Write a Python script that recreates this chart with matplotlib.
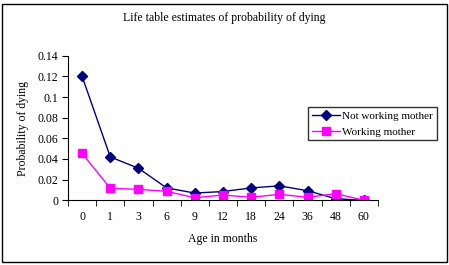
import matplotlib
matplotlib.use("Agg")
import matplotlib.pyplot as plt
from matplotlib.patches import Rectangle
import numpy as np

plt.rcParams['font.family'] = ['Liberation Serif', 'DejaVu Serif']

# data
ages = ['0', '1', '3', '6', '9', '12', '18', '24', '36', '48', '60']
not_working = [0.120, 0.042, 0.031, 0.012, 0.007, 0.0085, 0.012, 0.014, 0.0093, 0.0015, 0.0]
working = [0.0455, 0.0116, 0.0106, 0.0087, 0.0025, 0.0051, 0.0029, 0.0058, 0.0029, 0.0064, 0.0]

fig = plt.figure(figsize=(4.49, 2.65), dpi=100)
fig.patches.append(Rectangle((2/449, 3/265), 445/449, 258/265, transform=fig.transFigure,
                             fill=False, edgecolor='black', linewidth=1.0))

ax = fig.add_axes([68/449, 1 - 200.3/265, 310/449, (200.3 - 55.7)/265])
x = np.arange(len(ages))
ax.plot(x, not_working, color='#000080', marker='D', markersize=5, linewidth=1,
        label='Not working mother')
ax.plot(x, working, color='#FF00FF', marker='s', markersize=5.5, linewidth=1,
        label='Working mother')

ax.set_xlim(-0.5, len(ages) - 0.5)
ax.set_ylim(0, 0.14)
ax.set_yticks(np.arange(0, 0.141, 0.02))
ax.set_yticklabels(['0', '0.02', '0.04', '0.06', '0.08', '0.1', '0.12', '0.14'])
ax.set_xticks(x)
ax.set_xticklabels(ages)
ax.set_xticks(np.arange(-0.5, len(ages), 1), minor=True)
ax.tick_params(axis='x', which='major', length=0, pad=8, labelsize=8.5)
ax.tick_params(axis='x', which='minor', length=4, direction='out')
ax.tick_params(axis='y', length=4, direction='out', labelsize=8.5, pad=3)
for s in ['top', 'right']:
    ax.spines[s].set_visible(False)
ax.patch.set_alpha(0)

ax.set_xlabel('Age in months', fontsize=8.5, labelpad=7)
ax.set_ylabel('Probability of dying', fontsize=8.5, labelpad=6)
fig.text(0.5, 1 - 18/265, 'Life table estimates of probability of dying',
         ha='center', va='center', fontsize=8.5)

leg = fig.legend(loc='upper left', bbox_to_anchor=(308/449, 1 - 107/265),
                 fontsize=8, frameon=True, fancybox=False, borderpad=0.35,
                 handlelength=2.5, labelspacing=0.55, handletextpad=0.2, borderaxespad=0)
leg.get_frame().set_edgecolor('black')
leg.get_frame().set_linewidth(1.0)

fig.savefig('out.png', dpi=100)
